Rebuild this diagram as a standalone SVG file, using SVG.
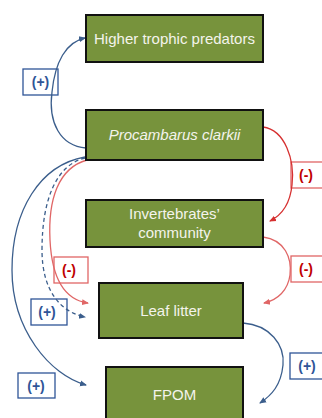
<svg xmlns="http://www.w3.org/2000/svg" width="322" height="418" viewBox="0 0 322 418">
<defs>
<style>
.node rect{fill:#77933C;stroke:#111;stroke-width:2}
.node text{fill:#F4F4EC;font-family:"Liberation Sans",Arial,sans-serif;font-size:15px;text-anchor:middle}
.lbl rect{fill:#fff;stroke-width:1.3}
.lbl text{font-family:"Liberation Sans",Arial,sans-serif;font-size:14px;font-weight:bold;text-anchor:middle}
.pos rect{stroke:#2F5597}.pos text{fill:#2F5597}
.neg rect{stroke:#E06666}.neg text{fill:#C00000}
.c{fill:none;stroke-width:1.3}
.b{stroke:#3B5E8C}
.r{stroke:#E06666}
.r2{stroke:#D63030}
</style>
<marker id="ab" markerWidth="8" markerHeight="8" refX="6" refY="4" orient="auto" markerUnits="userSpaceOnUse"><path d="M0,1 L7,4 L0,7 Z" fill="#3B5E8C"/></marker>
<marker id="ar" markerWidth="8" markerHeight="8" refX="6" refY="4" orient="auto" markerUnits="userSpaceOnUse"><path d="M0,1 L7,4 L0,7 Z" fill="#E06666"/></marker>
<marker id="ar2" markerWidth="8" markerHeight="8" refX="6" refY="4" orient="auto" markerUnits="userSpaceOnUse"><path d="M0,1 L7,4 L0,7 Z" fill="#D63030"/></marker>
</defs>
<rect width="322" height="418" fill="#fff"/>
<g id="labels">
<g class="lbl pos"><rect x="23" y="69" width="35" height="26"/><text x="40.5" y="87">(+)</text></g>
<g class="lbl neg"><rect x="291" y="162" width="35" height="26"/><text x="306" y="180">(-)</text></g>
<g class="lbl neg"><rect x="291" y="256" width="35" height="26"/><text x="306" y="274">(-)</text></g>
<g class="lbl neg"><rect x="54" y="257" width="34" height="26"/><text x="69" y="275">(-)</text></g>
<g class="lbl pos"><rect x="31" y="299" width="36" height="26"/><text x="47" y="317">(+)</text></g>
<g class="lbl pos"><rect x="18" y="373" width="37" height="25"/><text x="36" y="391">(+)</text></g>
<g class="lbl pos"><rect x="290" y="353" width="36" height="26"/><text x="307" y="371">(+)</text></g>
</g>
<g id="connectors">
<path class="c b" d="M86,148 C60,146 48,122 52,92 C55,62 66,42 85,38" marker-end="url(#ab)"/>
<path class="c r2" d="M263,127 C285,130 295,160 292,185 C290,205 282,215 270,221" marker-end="url(#ar2)"/>
<path class="c r" d="M263,237 C285,240 292,258 290,275 C288,290 278,300 264,303" marker-end="url(#ar)"/>
<path class="c r" d="M87,160 C58,168 48,200 50,240 C52,280 66,300 88,303" marker-end="url(#ar)"/>
<path class="c b" stroke-dasharray="4,3" d="M85,158 C56,165 42,200 42,250 C42,290 60,312 85,317" marker-end="url(#ab)"/>
<path class="c b" d="M85,157 C40,165 12,210 12,270 C12,330 50,375 86,385" marker-end="url(#ab)"/>
<path class="c b" d="M243,323 C270,325 285,345 283,365 C281,385 272,395 260,403" marker-end="url(#ab)"/>
</g>
<g id="n1" class="node"><rect x="86" y="15" width="177" height="47"/><text x="174.5" y="44">Higher trophic predators</text></g>
<g id="n2" class="node"><rect x="86" y="110" width="177" height="50"/><text x="174.5" y="140" font-style="italic">Procambarus clarkii</text></g>
<g id="n3" class="node"><rect x="86" y="200" width="177" height="47"/><text x="174.5" y="219">Invertebrates’</text><text x="174.5" y="238">community</text></g>
<g id="n4" class="node"><rect x="99" y="283" width="144" height="55"/><text x="171" y="316">Leaf litter</text></g>
<g id="n5" class="node"><rect x="106" y="367" width="137" height="60"/><text x="174.5" y="400">FPOM</text></g>
</svg>
